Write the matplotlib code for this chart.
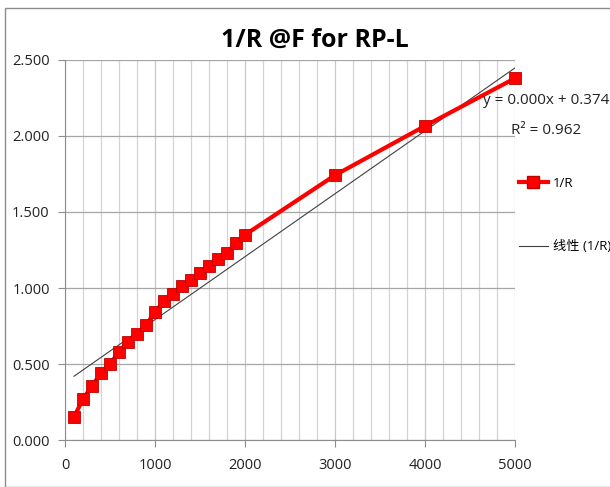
import matplotlib
matplotlib.use("Agg")
import matplotlib.pyplot as plt
import numpy as np
from matplotlib.patches import Rectangle
from matplotlib.lines import Line2D

plt.rcParams['font.family'] = ['Open Sans', 'Noto Sans CJK SC', 'DejaVu Sans']

x_vals = [100, 200, 300, 400, 500, 600, 700, 800, 900, 1000, 1100, 1200, 1300,
          1400, 1500, 1600, 1700, 1800, 1900, 2000, 3000, 4000, 5000]
inv_r = [0.151, 0.27, 0.355, 0.44, 0.50, 0.58, 0.645, 0.70, 0.757, 0.84, 0.915,
         0.96, 1.013, 1.05, 1.10, 1.145, 1.19, 1.23, 1.296, 1.35, 1.742, 2.066, 2.38]
trend_slope = 0.000414
trend_intercept = 0.378
title = "1/R @F for RP-L"
series_name = "1/R"
trend_name = "线性 (1/R)"
eq_text = "y = 0.000x + 0.374"
r2_text = "R² = 0.962"

fig = plt.figure(figsize=(6.10, 4.87), dpi=100)
fig.patches.append(Rectangle((5/610, 0.0), 1.2, (487-8)/487, transform=fig.transFigure,
                             fill=False, edgecolor='#8c8c8c', linewidth=1.0))
ax = fig.add_axes([65/610, 47/487, 450/610, 380/487])

ax.set_xlim(0, 5000)
ax.set_ylim(0, 2.5)
ax.set_xticks(np.arange(0, 5001, 1000))
ax.set_xticks(np.arange(0, 5001, 200), minor=True)
ax.set_yticks(np.arange(0, 2.501, 0.5))
ax.set_yticklabels([f"{v:.3f}" for v in np.arange(0, 2.501, 0.5)])
ax.grid(which='minor', axis='x', color='#d4d4d4', linewidth=0.9)
ax.grid(which='major', axis='x', color='#c8c8c8', linewidth=0.9)
ax.grid(which='major', axis='y', color='#a6a6a6', linewidth=0.9)
ax.set_axisbelow(True)
for s in ['top', 'right']:
    ax.spines[s].set_visible(False)
for s in ['left', 'bottom']:
    ax.spines[s].set_color('#8c8c8c')
ax.tick_params(which='major', axis='both', color='#8c8c8c', length=5, labelsize=10.5,
               labelcolor='#222222')
ax.tick_params(which='minor', length=0)
ax.tick_params(axis='x', pad=8)
ax.tick_params(axis='y', pad=6)

xt = np.array([x_vals[0], x_vals[-1]])
ax.plot(xt, trend_intercept + trend_slope * xt, color='#404040', linewidth=0.8, zorder=2)
ax.plot(x_vals, inv_r, color='#ff0000', linewidth=3, marker='s', markersize=9,
        markerfacecolor='#ff0000', markeredgecolor='#c00000', markeredgewidth=0.6,
        zorder=3, clip_on=False)

fig.text(315/610, 1 - 40/487, title, ha='center', va='center', fontsize=18,
         fontweight='bold', color='#000000')
fig.text(546/610, 1 - 101/487, eq_text, ha='center', va='center', fontsize=11, color='#222222')
fig.text(546/610, 1 - 130/487, r2_text, ha='center', va='center', fontsize=11, color='#222222')

handles = [Line2D([], [], color='#ff0000', linewidth=3, marker='s', markersize=8,
                  markerfacecolor='#ff0000', markeredgecolor='#c00000'),
           Line2D([], [], color='#404040', linewidth=0.8)]
fig.legend(handles, [series_name, trend_name], loc='upper left',
           bbox_to_anchor=(508/610, 1 - 166/487), frameon=False, fontsize=9.5,
           labelspacing=3.85, handlelength=2.2, handletextpad=0.4, borderpad=0.3)

fig.savefig("out.png", dpi=100)
